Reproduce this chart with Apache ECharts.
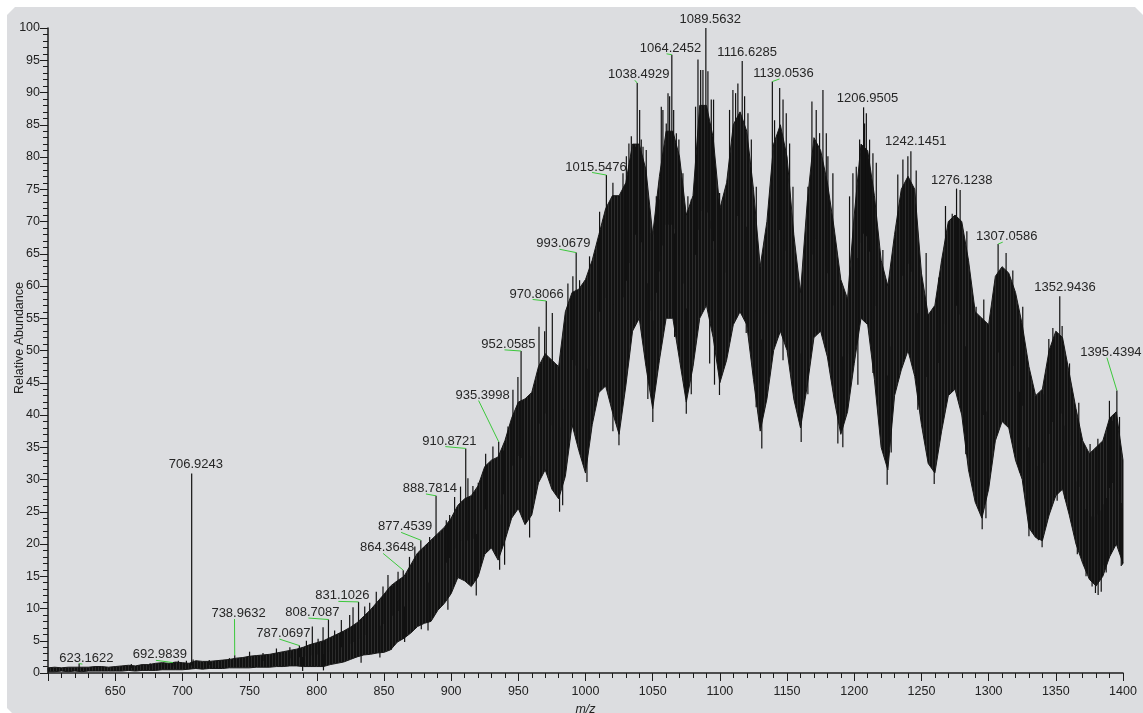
<!DOCTYPE html>
<html><head><meta charset="utf-8">
<script src="https://cdn.jsdelivr.net/npm/echarts@6/dist/echarts.min.js"></script>
<style>html,body{margin:0;padding:0;background:#ffffff}#c{width:1143px;height:713px}</style>
</head><body><div id="c"></div>
<script>
// ---- data ----
const envStart = 600, envStep = 5;   // m/z of first envelope sample and spacing
// upper edge of the dense peak body, m/z 600..1400 every 5
const envTop = [
  0.8, 0.9, 0.8, 0.9, 0.9, 0.9, 0.9, 1.0, 1.0, 0.9,
  1.0, 1.1, 1.2, 1.1, 1.3, 1.3, 1.5, 1.6, 1.5, 1.7,
  1.6, 1.5, 1.9, 1.8, 1.8, 1.9, 2.0, 2.1, 2.3, 2.4,
  2.6, 2.7, 2.8, 2.9, 3.1, 3.3, 3.5, 3.7, 4.0, 4.4,
  4.7, 5.0, 5.5, 6.0, 6.5, 7.1, 7.8, 8.8, 9.8, 11.0,
  12.2, 13.5, 14.3, 15.0, 16.8, 18.6, 19.6, 20.6, 21.6, 22.6,
  24.0, 26.0, 27.0, 27.5, 29.0, 32.0, 33.0, 33.5, 36.0, 39.5,
  42.0, 42.5, 43.5, 47.5, 49.5, 48.5, 47.5, 56.0, 59.0, 59.5,
  61.0, 64.0, 68.0, 72.0, 74.0, 74.0, 76.0, 82.0, 82.0, 78.0,
  68.0, 77.0, 84.0, 84.0, 80.0, 71.0, 74.0, 88.0, 88.0, 83.0,
  72.0, 76.0, 85.0, 87.0, 84.0, 75.0, 63.0, 70.0, 82.0, 85.0,
  80.0, 68.0, 59.0, 73.0, 83.0, 81.0, 76.0, 69.0, 61.0, 58.0,
  71.0, 82.0, 81.0, 74.0, 64.0, 60.0, 68.0, 75.0, 77.0, 75.0,
  62.0, 55.5, 57.0, 64.0, 70.0, 71.0, 70.0, 64.0, 56.0, 55.0,
  54.0, 61.5, 63.0, 62.0, 59.0, 54.0, 47.5, 43.0, 44.0, 50.0,
  53.0, 52.0, 46.5, 41.0, 36.0, 34.0, 35.0, 36.0, 39.5, 40.5,
  33.0
];
// lower edge of the dense peak body, m/z 600..1400 every 5
const envBottom = [
  0.2, 0.2, 0.3, 0.2, 0.3, 0.2, 0.3, 0.3, 0.3, 0.3,
  0.3, 0.3, 0.4, 0.3, 0.4, 0.4, 0.4, 0.5, 0.5, 0.5,
  0.5, 0.6, 0.7, 0.6, 0.7, 0.7, 0.7, 0.8, 0.8, 0.8,
  0.8, 0.9, 0.9, 0.9, 1.0, 1.0, 1.1, 1.1, 1.0, 1.0,
  1.0, 1.0, 1.3, 1.5, 1.7, 2.1, 2.5, 2.8, 2.9, 3.1,
  3.2, 3.6, 4.8, 5.4, 6.2, 7.2, 7.7, 8.0, 9.7, 10.8,
  12.3, 14.8, 14.3, 13.4, 14.9, 18.4, 19.4, 17.5, 20.5, 24.0,
  25.5, 23.0, 24.5, 29.5, 31.5, 28.5, 27.0, 30.5, 38.5, 34.5,
  31.0, 38.5, 43.5, 44.5, 40.5, 37.0, 44.5, 53.0, 55.0, 47.5,
  41.0, 48.5, 55.0, 55.0, 48.5, 42.0, 47.5, 55.0, 57.0, 52.0,
  45.0, 48.5, 54.0, 56.0, 54.0, 45.5, 37.5, 42.5, 50.0, 53.0,
  50.0, 42.5, 38.0, 44.5, 52.0, 53.0, 49.0, 42.5, 37.0, 40.5,
  48.0, 55.0, 54.0, 45.5, 35.0, 31.5, 43.0, 47.0, 50.0, 46.0,
  38.5, 32.5, 31.0, 37.5, 43.0, 44.0, 40.0, 31.5, 26.5, 24.0,
  28.5, 36.0, 39.0, 38.0, 33.0, 30.0, 22.5, 21.0, 20.5, 24.5,
  27.5, 28.5, 24.5, 20.0, 17.0, 14.5, 13.5, 15.0, 18.0, 20.0,
  17.0
];
// individual tall peaks rising above the body [m/z, relative abundance]
const spikesUp = [
  [662,1.4],[676,1.5],[686,1.6],[697,1.9],[703,1.9],[708,2.1],[720,2.0],[735,2.3],[750,3.3],[760,3.1],
  [770,3.8],[780,4.0],[792.3,5.0],[796.7,7.2],[801,5.3],[804.7,7.1],[813.3,6.6],[818.3,8.2],[824.5,9.0],[827,10.2],
  [835.7,10.3],[839.4,10.9],[844.3,12.6],[849.3,13.4],[853,15.2],[856.7,13.5],[860.5,15.7],[869,18.0],[873,19.6],[884,21.1],
  [891.4,21.7],[896.4,23.7],[898.9,24.5],[902.6,27.3],[907,28.9],[912.5,30.2],[916.2,29.0],[920.2,29.5],[925.7,34.0],[931.1,35.1],
  [939,34.5],[942.3,38.2],[946,43.9],[949.7,45.9],[962.1,43.9],[965.4,53.7],[969.6,53.0],[975.3,55.8],[986.9,60.4],[990.6,61.5],
  [995.6,60.9],[1003,64.6],[1010.5,71.5],[1020.4,76.0],[1027.9,77.5],[1030.4,80.1],[1032.3,82.1],[1034.1,83.2],[1037.3,81.6],[1040.3,87.3],
  [1041.5,82.7],[1042.8,81.6],[1045.2,81.1],[1049,68.2],[1052.7,73.9],[1054.7,73.4],[1056.4,87.8],[1057.6,87.3],[1060.1,85.2],[1061.4,89.9],
  [1062.6,89.4],[1065.6,87.3],[1067.6,83.7],[1069.5,82.7],[1072.5,77.5],[1076.2,73.9],[1078.7,73.4],[1081.9,87.8],[1083.7,95.1],[1085.7,93.5],
  [1087.4,93.5],[1091.1,93.3],[1093.6,88.9],[1095.3,88.9],[1099.8,74.4],[1104.8,73.4],[1107.2,87.3],[1109.7,90.4],[1111.7,89.9],[1113.4,91.4],
  [1118.4,89.4],[1120.9,86.8],[1123.4,82.7],[1127.1,75.4],[1134.5,68.2],[1140.7,85.7],[1144.5,90.7],[1147,88.9],[1149.4,86.8],[1151.9,82.1],
  [1154.4,75.4],[1165.5,75.4],[1168.5,88.6],[1171.7,87.3],[1174.2,83.7],[1176.7,90.4],[1179.2,83.7],[1180.4,80.1],[1184.1,77.5],[1196.5,73.9],
  [1199,77.5],[1201.5,78.5],[1204,82.7],[1207.7,85.2],[1209,86.8],[1211.4,82.7],[1213.9,80.6],[1216.4,79.1],[1221.3,65.6],[1232.4,77.3],
  [1236.2,79.6],[1239.9,80.1],[1246.1,77.9],[1253.5,65.1],[1263,61.3],[1267.9,72.4],[1272.9,71.2],[1278.8,74.9],[1283.8,68.5],[1290.7,56.8],
  [1296.4,57.9],[1301.9,54.1],[1313,65.1],[1318,62.4],[1325.4,56.8],[1332.9,44.1],[1340.3,43.2],[1344.8,51.8],[1347.8,53.5],[1354.7,53.8],
  [1360.2,48.0],[1367.1,41.9],[1375.5,35.5],[1381.3,36.3],[1389.9,42.2],[1392.4,39.1],[1397.4,39.7]
];
// individual deep dips below the body [m/z, relative abundance]
const spikesDown = [
  [789.5,0.3],[805,0.4],[833,1.6],[847,2.4],[855.5,3.6],[865.4,4.8],[877.8,6.8],[882.8,6.6],[897.6,9.8],[918.7,12.0],
  [936.1,16.0],[939.8,16.8],[958.4,21.0],[980.7,25.0],[983,26.0],[1001.1,29.6],[1020.4,37.5],[1024.9,35.3],[1046.4,42.5],[1050.1,38.9],
  [1066.3,52.1],[1075,40.2],[1078.7,43.2],[1092.4,48.0],[1096,44.7],[1099.7,43.1],[1119.6,52.7],[1127,41.2],[1131.2,34.8],[1147,48.5],
  [1159,40.0],[1160.5,35.8],[1165.5,43.2],[1170.5,52.7],[1187.8,35.6],[1191.5,35.0],[1196.5,49.5],[1202.7,44.7],[1213.9,46.5],[1221.3,34.6],
  [1224.5,29.2],[1227.5,34.2],[1247.3,40.8],[1259.5,29.3],[1283,33.9],[1295.2,22.3],[1298,24.0],[1323,31.1],[1330,21.2],[1337,20.6],
  [1339.8,19.5],[1351,26.7],[1357,27.0],[1366,18.4],[1372.5,15.0],[1377,13.4],[1379.5,12.4],[1381.5,12.1],[1383.8,12.6],[1386,16.7],
  [1387.5,15.6],[1398.7,16.6],[1399.5,16.8]
];
// annotated peaks
const labelTexts = ['623.1622','692.9839','706.9243','738.9632','787.0697','808.7087','831.1026','864.3648','877.4539',
  '888.7814','910.8721','935.3998','952.0585','970.8066','993.0679','1015.5476','1038.4929','1064.2452','1089.5632',
  '1116.6285','1139.0536','1206.9505','1242.1451','1276.1238','1307.0586','1352.9436','1395.4394'];
const labelPeakI = [1.46,1.61,30.94,2.75,4.25,8.29,11.02,15.94,20.59,27.47,34.82,35.85,49.92,57.68,65.18,77.2,91.46,95.86,100,
  94.9,91.7,87.7,80.9,75.1,66.5,58.4,43.8];
// where each label sits (its leader-line end), in [m/z, abundance]
const labelAnchor = [[625.6,1.38],[680.3,1.97],[707.1,31.5],[738.8,8.36],[772.2,5.26],[793.8,8.52],[816.1,11.1],[849.4,18.54],
  [862.8,21.8],[881.25,27.76],[895.7,35.1],[920.45,42.24],[939.7,50.1],[960.65,57.91],[980.6,65.7],[1004.9,77.6],[1036.7,91.9],
  [1060.3,96.0],[1089.9,100.4],[1117.3,95.3],[1144.4,92.1],[1206.9,88.2],[1242.8,81.5],[1277.0,75.5],[1310.5,66.8],[1353.9,58.9],
  [1388.0,48.9]];

// ---- build ----
const FONT = '"Liberation Sans", Arial, Helvetica, sans-serif';
const envRows = envTop.map((t, i) => [envStart + i * envStep, t, envBottom[i]]);
function envMid(mz) {
  const f = (mz - envStart) / envStep;
  const i = Math.max(0, Math.min(envTop.length - 2, Math.floor(f)));
  const t = Math.max(0, Math.min(1, f - i));
  const a = (envTop[i] + envBottom[i]) / 2, b = (envTop[i + 1] + envBottom[i + 1]) / 2;
  return a + (b - a) * t;
}
const peakRows = labelTexts.map((t, i) => [parseFloat(t), labelPeakI[i]]);
const spikeRows = peakRows.concat(spikesUp, spikesDown);
const labelRows = labelTexts.map((t, i) => [parseFloat(t), labelPeakI[i], labelAnchor[i][0], labelAnchor[i][1], i]);

// fine vertical stripe texture for the dense body of peaks
const pat = document.createElement('canvas');
pat.width = 3; pat.height = 4;
(function () {
  const g = pat.getContext('2d');
  g.fillStyle = '#111111'; g.fillRect(0, 0, 3, 4);
  g.fillStyle = '#2c2c2c'; g.fillRect(2, 0, 1, 4);
})();

const chart = echarts.init(document.getElementById('c'), null, {renderer: 'canvas'});
const tickColor = '#1c1c1c';
chart.setOption({
  animation: false,
  textStyle: {fontFamily: FONT},
  graphic: [{
    type: 'polygon', z: -100, silent: true,
    shape: {points: [[7,15],[15,7],[1135,7],[1143,15],[1143,713],[12,713],[7,708]]},
    style: {fill: '#dcdde0'}
  }, {
    type: 'text', z: 10, silent: true, x: 19.5, y: 338, rotation: Math.PI / 2,
    style: {text: 'Relative Abundance', fill: '#222', fontSize: 12.5, fontFamily: FONT,
      align: 'center', verticalAlign: 'middle'}
  }],
  grid: {left: 48, right: 20, top: 28, bottom: 40, containLabel: false, outerBoundsMode: 'none'},
  xAxis: {
    type: 'value', min: 600, max: 1400, interval: 50,
    name: 'm/z', nameLocation: 'middle', nameGap: 29,
    nameTextStyle: {fontStyle: 'italic', fontSize: 12.5, color: '#222', fontFamily: FONT},
    axisLine: {show: true, onZero: false, lineStyle: {color: tickColor, width: 1.5}},
    axisTick: {show: true, length: 8, lineStyle: {color: tickColor, width: 1}},
    minorTick: {show: true, splitNumber: 5, length: 5, lineStyle: {color: tickColor, width: 1}},
    axisLabel: {margin: 12, fontSize: 12.5, color: '#222', fontFamily: FONT,
      formatter: v => (v === 600 ? '' : String(v))},
    splitLine: {show: false}, minorSplitLine: {show: false}
  },
  yAxis: {
    type: 'value', min: 0, max: 100, interval: 5,
    axisLine: {show: true, onZero: false, lineStyle: {color: tickColor, width: 1.5}},
    axisTick: {show: true, length: 8, lineStyle: {color: tickColor, width: 1}},
    minorTick: {show: true, splitNumber: 5, length: 5, lineStyle: {color: tickColor, width: 1}},
    axisLabel: {margin: 8, fontSize: 12.5, color: '#222', fontFamily: FONT},
    splitLine: {show: false}, minorSplitLine: {show: false}
  },
  series: [
    {
      type: 'custom', name: 'body', silent: true, z: 2,
      data: envRows, encode: {x: 0, y: [1, 2]},
      renderItem(params, api) {
        if (params.dataIndex !== 0) return null;
        const pts = [];
        for (const r of envRows) pts.push(api.coord([r[0], r[1]]));
        for (let i = envRows.length - 1; i >= 0; i--) pts.push(api.coord([envRows[i][0], envRows[i][2]]));
        return {type: 'polygon', shape: {points: pts},
          style: {fill: {image: pat, repeat: 'repeat'}, stroke: '#181818', lineWidth: 1}};
      }
    },
    {
      type: 'custom', name: 'spikes', silent: true, z: 3,
      data: spikeRows, encode: {x: 0, y: 1},
      renderItem(params, api) {
        const mz = api.value(0), v = api.value(1);
        const p1 = api.coord([mz, v]), p2 = api.coord([mz, envMid(mz)]);
        return {type: 'line', shape: {x1: p1[0], y1: p1[1], x2: p2[0], y2: p2[1]},
          style: {stroke: '#121212', lineWidth: 1.2}};
      }
    },
    {
      type: 'custom', name: 'labels', silent: true, z: 5,
      data: labelRows, encode: {x: 0, y: 1},
      renderItem(params, api) {
        const p = api.coord([api.value(0), api.value(1)]);
        const f = api.coord([api.value(2), api.value(3)]);
        const idx = api.value(4);
        const children = [];
        if (Math.abs(p[0] - f[0]) > 1.5 || Math.abs(p[1] - f[1]) > 6) {
          children.push({type: 'line', shape: {x1: p[0], y1: p[1], x2: f[0], y2: f[1]},
            style: {stroke: '#3cc83c', lineWidth: 1}});
        }
        children.push({type: 'text', x: f[0] + 4, y: f[1] - 5.5,
          style: {text: labelTexts[idx], fill: '#262626', fontSize: 13, fontFamily: FONT,
            align: 'center', verticalAlign: 'middle'}});
        return {type: 'group', children};
      }
    }
  ]
});
</script>
</body></html>
